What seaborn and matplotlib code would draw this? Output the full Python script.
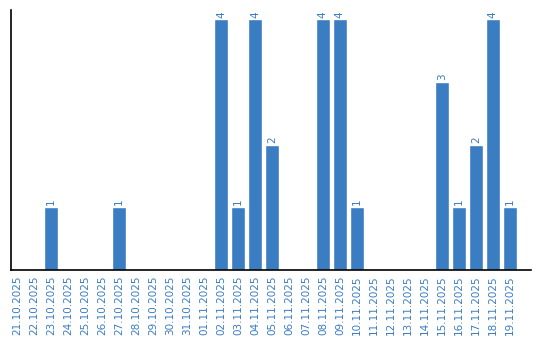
import matplotlib
matplotlib.use("Agg")
import matplotlib.pyplot as plt
import seaborn as sns
import pandas as pd

dates = ["21.10.2025", "22.10.2025", "23.10.2025", "24.10.2025", "25.10.2025",
         "26.10.2025", "27.10.2025", "28.10.2025", "29.10.2025", "30.10.2025",
         "31.10.2025", "01.11.2025", "02.11.2025", "03.11.2025", "04.11.2025",
         "05.11.2025", "06.11.2025", "07.11.2025", "08.11.2025", "09.11.2025",
         "10.11.2025", "11.11.2025", "12.11.2025", "13.11.2025", "14.11.2025",
         "15.11.2025", "16.11.2025", "17.11.2025", "18.11.2025", "19.11.2025"]
counts = [0, 0, 1, 0, 0, 0, 1, 0, 0, 0,
          0, 0, 4, 1, 4, 2, 0, 0, 4, 4,
          1, 0, 0, 0, 0, 3, 1, 2, 4, 1]

color = "#3a7dc2"
df = pd.DataFrame({"date": dates, "count": counts})

sns.set_style("white")
fig = plt.figure(figsize=(5.4, 3.4), dpi=100)
ax = fig.add_axes([10.5/540, 70/340, 520.5/540, 260/340])
sns.barplot(data=df, x="date", y="count", color=color, saturation=1, width=0.82, ax=ax)

for i, v in enumerate(counts):
    if v > 0:
        ax.text(i, v + 0.03, str(v), rotation=90, ha="center", va="bottom",
                color=color, fontsize=7.5)

ax.set_ylim(0, 4.15)
ax.set_xlim(-0.38, 30.24)
ax.set_yticks([])
ax.set_xlabel("")
ax.set_ylabel("")
ax.tick_params(axis="x", labelrotation=90, labelsize=7.5, labelcolor=color, length=0, pad=4)
for s in ["top", "right"]:
    ax.spines[s].set_visible(False)
for s in ["left", "bottom"]:
    ax.spines[s].set_color("black")
    ax.spines[s].set_linewidth(1.2)

fig.savefig("out.png", dpi=100)
